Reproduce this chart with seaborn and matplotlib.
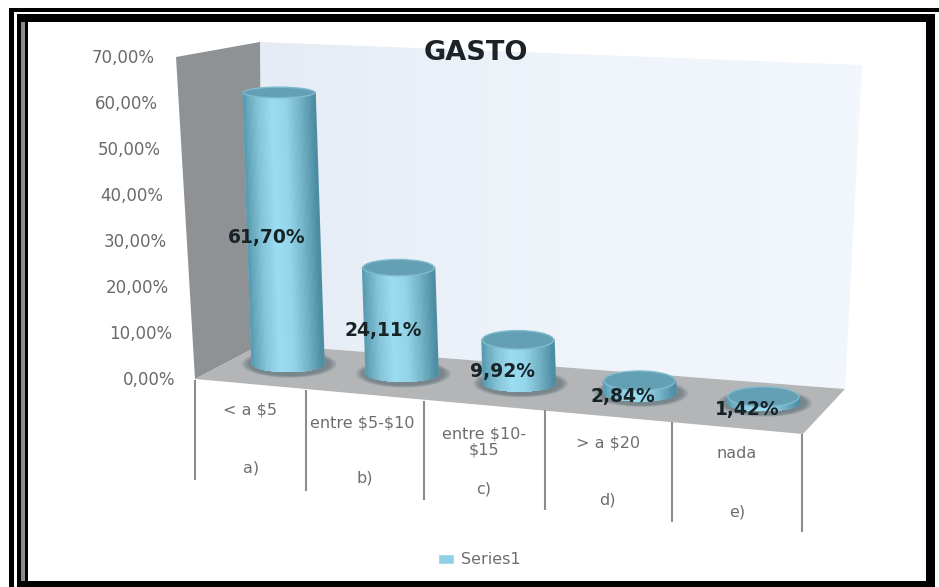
import numpy as np
import pandas as pd
import seaborn as sns
import matplotlib
matplotlib.use("Agg")
from matplotlib import pyplot as plt
from matplotlib.patches import Ellipse, Polygon, Rectangle
from matplotlib.transforms import Affine2D
from matplotlib.colors import LinearSegmentedColormap

# data
categories = ["< a $5", "entre $5-$10", "entre $10-\n$15", "> a $20", "nada"]
letters = ["a)", "b)", "c)", "d)", "e)"]
values = [61.70, 24.11, 9.92, 2.84, 1.42]
value_labels = ["61,70%", "24,11%", "9,92%", "2,84%", "1,42%"]
y_ticks = [0, 10, 20, 30, 40, 50, 60, 70]
title = "GASTO"
series_name = "Series1"

W, H = 939, 587
UX, UY = 118.75, 4.4       # px per category / per percent
X0, Y0 = 288, 364          # px of first bar base
HALF = 0.30                # half bar width in category units

sns.set_style("white")
fig = plt.figure(figsize=(W / 100, H / 100), dpi=100)

# background axes in pixels, for frame and fake 3d walls
bg = fig.add_axes([0, 0, 1, 1])
bg.set_xlim(0, W)
bg.set_ylim(H, 0)
bg.axis("off")

for box, col in [((9, 8, 930, 4), "black"), ((9, 8, 5, 579), "black"),
                 ((17, 14, 918, 8), "black"), ((17, 14, 4, 573), "black"),
                 ((21, 22, 4, 560), "#8a8a8a"), ((25, 22, 3, 560), "black"),
                 ((926, 14, 9, 573), "black"), ((17, 581, 918, 6), "black")]:
    bg.add_patch(Rectangle(box[:2], box[2], box[3], color=col, lw=0))

wall = Polygon([(260, 42), (862, 65), (845, 389), (262, 344)], closed=True, fc="none", ec="none")
bg.add_patch(wall)
grad = bg.imshow(np.linspace(0, 1, 100).reshape(1, -1), extent=(260, 862, 389, 42), aspect="auto",
                 cmap=LinearSegmentedColormap.from_list("w", ["#e6ecf5", "#eef4fa", "#f1f7fc"]))
grad.set_clip_path(wall)
bg.set_xlim(0, W)
bg.set_ylim(H, 0)
bg.add_patch(Polygon([(176, 57), (260, 42), (262, 344), (195, 379)], closed=True, fc="#8f9295", ec="none"))
bg.add_patch(Polygon([(262, 344), (845, 389), (803, 434), (195, 379)], closed=True, fc="#b3b5b7", ec="none"))

# table lines under the floor
for x, y1, y2 in [(195, 380, 480), (306, 390, 491), (424, 401, 500),
                  (545, 410, 510), (672, 422, 522), (802, 434, 532)]:
    bg.plot([x, x], [y1, y2], color="#8c8c8c", lw=1.5, solid_capstyle="butt")

# y labels lean along the left wall
for t in y_ticks:
    bg.text(175 - t * 0.285, 380 - t * 4.6, f"{t},00%", ha="right", va="center",
            fontsize=12, color="#6a6a6a")

cat_pos = [(250, 410), (362, 423), (484, 442), (608, 443), (737, 453)]
let_pos = [(251, 468), (365, 478), (484, 489), (607, 500), (737, 512)]
for c, l, p, q in zip(categories, letters, cat_pos, let_pos):
    bg.text(p[0], p[1], c, ha="center", va="center", fontsize=11.5, color="#6e6e6e",
            linespacing=1.15, parse_math=False)
    bg.text(q[0], q[1], l, ha="center", va="center", fontsize=11.5, color="#6e6e6e")

bg.text(476, 53, title, ha="center", va="center", fontsize=19.5, fontweight="bold", color="#1c2226")

# chart axes on top, transparent
ax = fig.add_axes([0, 0, 1, 1], zorder=2)
df = pd.DataFrame({"pos": range(len(values)), "val": values})
sns.barplot(data=df, x="pos", y="val", ax=ax, width=2 * HALF, color="#8fd0e4", saturation=1,
            native_scale=True, label=series_name, legend=False)
ax.set_xlim(-X0 / UX, (W - X0) / UX)
ax.set_ylim((Y0 - H) / UY, Y0 / UY)
ax.patch.set_alpha(0)
ax.axis("off")

cyl = LinearSegmentedColormap.from_list("cyl", ["#5a9db3", "#86c4d8", "#9cdcf0", "#94d4e8", "#74b2c6", "#4d8da3"])


def bar_trans(i):
    # moves a bar along the floor: perspective in x, slope in y, lean with height
    dx = -0.0526 * i + 0.01347 * i * i
    dy = -9.75 / UY * i
    return Affine2D(np.array([[1, -0.033 * UY / UX, dx], [0, 1, dy], [0, 0, 1]])) + ax.transData


t = np.linspace(-1, 1, 61)
RY = 8 / UY
for i, (v, lab, rect) in enumerate(zip(values, value_labels, ax.patches)):
    tr = bar_trans(i)
    rect.set_transform(tr)
    rect.set_zorder(3.5)
    for grow, a in [(1.32, 0.35), (1.24, 0.55), (1.16, 0.8)]:
        ax.add_patch(Ellipse((i + 0.01, 0), 2 * HALF * grow, 2 * RY * grow * 1.3, fc="#76848a", ec="none",
                             alpha=a, transform=tr, zorder=3))
    mx = i + HALF * t
    bottom = -RY * np.sqrt(1 - t ** 2)
    X = np.vstack([mx, mx])
    Y = np.vstack([bottom, np.full_like(t, v)])
    C = np.array([(t[:-1] + t[1:]) / 2])
    mesh = ax.pcolormesh(X, Y, C, cmap=cyl, shading="flat", transform=tr, zorder=4,
                         antialiased=False, linewidth=0)
    mesh.set_snap(False)
    # side lines hide the stair steps of the mesh
    ax.plot([i - HALF, i - HALF], [0, v], color="#5a9db3", lw=1.6, transform=tr, zorder=4.5)
    ax.plot([i + HALF, i + HALF], [0, v], color="#4d8da3", lw=1.6, transform=tr, zorder=4.5)
    top_ry = (10 - 0.075 * v) / UY  # flatter ellipse on tall bars
    ax.add_patch(Ellipse((i, v), 2 * HALF, 2 * top_ry, fc="#659fb4", ec="#7fbccf", lw=1, transform=tr, zorder=5))
    ax.annotate(lab, xy=(i, v / 2), xycoords=tr, xytext=(-12, -7), textcoords="offset points",
                ha="center", va="center", fontsize=13.5, fontweight="bold", color="#172327", zorder=6)

# legend below the chart
handles, labels = ax.get_legend_handles_labels()
leg = ax.legend(handles[:1], labels[:1], loc="center", bbox_to_anchor=(479 / W, 1 - 560 / H), frameon=False,
                fontsize=11.5, handlelength=1.05, handleheight=0.65, handletextpad=0.4,
                labelcolor="#6e6e6e")

fig.savefig("out.png", dpi=100)
